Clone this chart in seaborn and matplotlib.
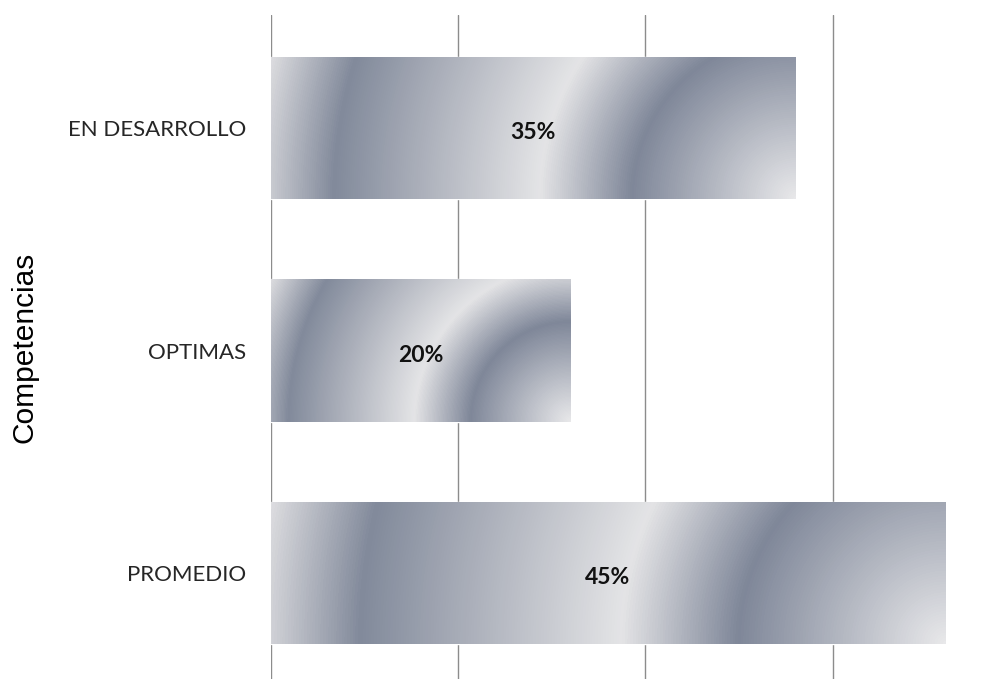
import numpy as np
import pandas as pd
import matplotlib
matplotlib.use("Agg")
import matplotlib.pyplot as plt
import seaborn as sns
from matplotlib.colors import LinearSegmentedColormap

sns.set_theme(style="white")

# data
categorias = ["EN DESARROLLO", "OPTIMAS", "PROMEDIO"]
porcentajes = [35, 20, 45]
etiquetas = ["35%", "20%", "45%"]

df = pd.DataFrame({"Competencias": categorias, "Porcentaje": porcentajes})

# silver radial gradient (rings from the bottom-right corner)
plata = LinearSegmentedColormap.from_list(
    "plata",
    [(0.0, "#e8e8ea"), (0.30, "#7f8799"), (0.47, "#e4e4e6"),
     (0.85, "#828a9b"), (1.0, "#dddde0")])

fig = plt.figure(figsize=(10.05, 6.79), dpi=100)
ax = fig.add_axes([271 / 1005, 0, 734 / 1005, 664 / 679])

sns.barplot(data=df, y="Competencias", x="Porcentaje", orient="h",
            color="#a0a6b4", width=0.64, ax=ax)

XMAX = 49.0
ax.set_xlim(0, XMAX)
ax.set_ylim(2.476, -0.508)
ax.set_xticks([0, 12.5, 25, 37.5])
ax.set_xticklabels([])
ax.grid(axis="x", color="#8c8c8c", linewidth=1)
ax.grid(axis="y", visible=False)
for s in ax.spines.values():
    s.set_visible(False)
ax.tick_params(axis="y", length=0, pad=18)
ax.tick_params(axis="x", length=0)
for t in ax.get_yticklabels():
    t.set_fontfamily("Lato")
    t.set_fontsize(16)
    t.set_color("#262626")
ax.set_ylabel("")
ax.set_xlabel("")

fig.canvas.draw()
for patch in list(ax.patches):
    x0, y0 = patch.get_x(), patch.get_y()
    w, h = patch.get_width(), patch.get_height()
    (px0, py0), (px1, py1) = ax.transData.transform([(x0, y0), (x0 + w, y0 + h)])
    wpx, hpx = int(abs(px1 - px0)) + 1, int(abs(py1 - py0)) + 1
    xx, yy = np.meshgrid(np.arange(wpx), np.arange(hpx))
    d = np.hypot(wpx - 1 - xx, yy) / np.hypot(wpx, hpx)
    img = plata(d)
    patch.set_facecolor("none")
    im = ax.imshow(img, extent=(x0, x0 + w, y0 + h, y0), origin="lower",
                   aspect="auto", zorder=patch.get_zorder(), interpolation="bilinear")
    im.set_clip_path(patch)

ax.set_xlim(0, XMAX)
ax.set_ylim(2.476, -0.508)
ax.set_axisbelow(True)

for i, (v, lab) in enumerate(zip(porcentajes, etiquetas)):
    ax.text(v / 2, i + 0.02, lab, ha="center", va="center", fontsize=16.5,
            fontweight="bold", fontfamily="Lato", color="#111111", zorder=5)

fig.text(25 / 1005, 1 - 347 / 679, "Competencias", rotation=90, ha="center",
         va="center", fontsize=21.5, fontfamily="Liberation Sans", color="black")

fig.savefig("out.png", dpi=100)
